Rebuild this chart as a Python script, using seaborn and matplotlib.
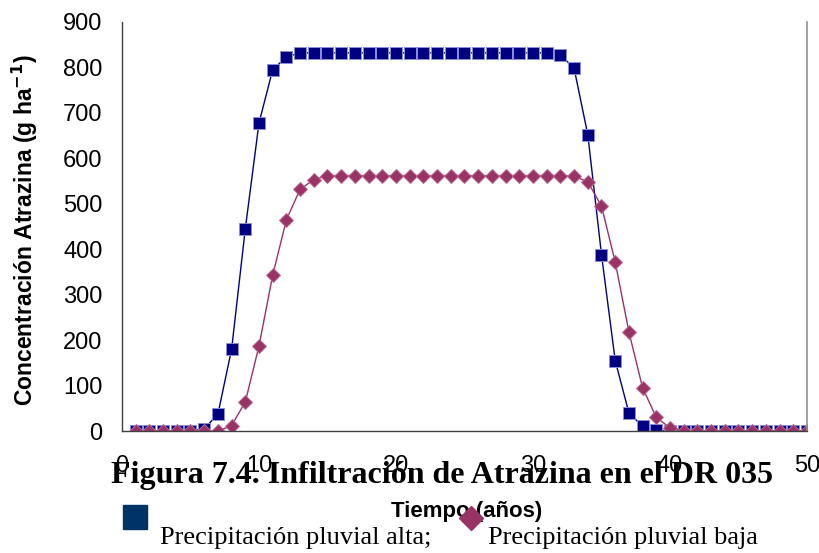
import matplotlib
matplotlib.use("Agg")
import matplotlib.pyplot as plt
from matplotlib.lines import Line2D
import numpy as np
import pandas as pd
import seaborn as sns

# ─── Data ────────────────────────────────────────────────────────────────────
years = list(range(1, 51))

alta = [0, 0, 0, 0, 0, 5, 37, 180, 445, 678,
        795, 823, 832, 832, 832, 832, 832, 832, 832, 832,
        832, 832, 832, 832, 832, 832, 832, 832, 832, 832,
        832, 828, 798, 652, 388, 155, 40, 10, 2, 0,
        0, 0, 0, 0, 0, 0, 0, 0, 0, 0]

baja = [0, 0, 0, 0, 0, 0, 0, 12, 64, 187,
        343, 465, 532, 553, 562, 562, 562, 562, 562, 562,
        562, 562, 562, 562, 562, 562, 562, 562, 562, 562,
        562, 562, 561, 548, 495, 372, 218, 95, 30, 7,
        0, 0, 0, 0, 0, 0, 0, 0, 0, 0]

x_ticks = [0, 10, 20, 30, 40, 50]
y_ticks = [0, 100, 200, 300, 400, 500, 600, 700, 800, 900]

BLUE = "#000080"
PINK = "#993366"

df = pd.DataFrame({"year": years, "alta": alta, "baja": baja})

sns.set_style("white")
plt.rcParams["font.family"] = ["Liberation Sans", "DejaVu Sans"]
plt.rcParams["text.color"] = "black"
plt.rcParams["axes.labelcolor"] = "black"

fig = plt.figure(figsize=(8.2, 5.53), dpi=100)
ax = fig.add_axes([122 / 820, 1 - 431 / 553, 685 / 820, 409 / 553])

sns.lineplot(data=df, x="year", y="alta", ax=ax, color=BLUE, lw=1.0,
             marker="s", markersize=8.5, markerfacecolor=BLUE,
             markeredgecolor="#8c8cd9", markeredgewidth=0.7)
sns.lineplot(data=df, x="year", y="baja", ax=ax, color=PINK, lw=1.0,
             marker="D", markersize=7.5, markerfacecolor=PINK,
             markeredgecolor="#b86a93", markeredgewidth=0.7)

ax.set_xlim(0, 50)
ax.set_ylim(0, 900)
ax.set_xticks(x_ticks)
ax.set_yticks(y_ticks)
ax.tick_params(axis="both", labelsize=17, direction="out",
               color="#404040", labelcolor="black")
ax.tick_params(axis="x", length=8, pad=9)
ax.tick_params(axis="y", length=7, pad=7)

for side in ["left", "bottom"]:
    ax.spines[side].set_color("#404040")
    ax.spines[side].set_linewidth(1.0)
ax.spines["top"].set_visible(False)
ax.spines["right"].set_color("#909090")
ax.spines["right"].set_linewidth(1.2)

ax.set_ylabel("Concentración Atrazina (g ha$^{\\mathbf{-1}}$)",
              fontsize=16.5, fontweight="bold")
ax.yaxis.set_label_coords(-0.12, 0.49)
ax.set_xlabel("Tiempo (años)", fontsize=16, fontweight="bold")
ax.xaxis.label.set_va("baseline")
ax.xaxis.set_label_coords(0.503, -0.210)

# caption overlapping the tick labels, as in the source document
fig.text(442 / 820, 1 - 483 / 553,
         "Figura 7.4. Infiltración de Atrazina en el DR 035",
         family="Liberation Serif", fontsize=23, fontweight="bold",
         ha="center", va="baseline")

# legend keys and texts
fig.add_artist(Line2D([135 / 820], [1 - 517 / 553], marker="s",
                      markersize=17.3, color="#003366", linestyle="none",
                      transform=fig.transFigure))
fig.add_artist(Line2D([471 / 820], [1 - 518 / 553], marker="D",
                      markersize=12.5, color=PINK, linestyle="none",
                      transform=fig.transFigure))
fig.text(160 / 820, 1 - 544 / 553, "Precipitación pluvial alta;",
         family="Liberation Serif", fontsize=19, ha="left", va="baseline")
fig.text(488 / 820, 1 - 544 / 553, "Precipitación pluvial baja",
         family="Liberation Serif", fontsize=19, ha="left", va="baseline")

fig.savefig("out.png", dpi=100)
plt.close(fig)
